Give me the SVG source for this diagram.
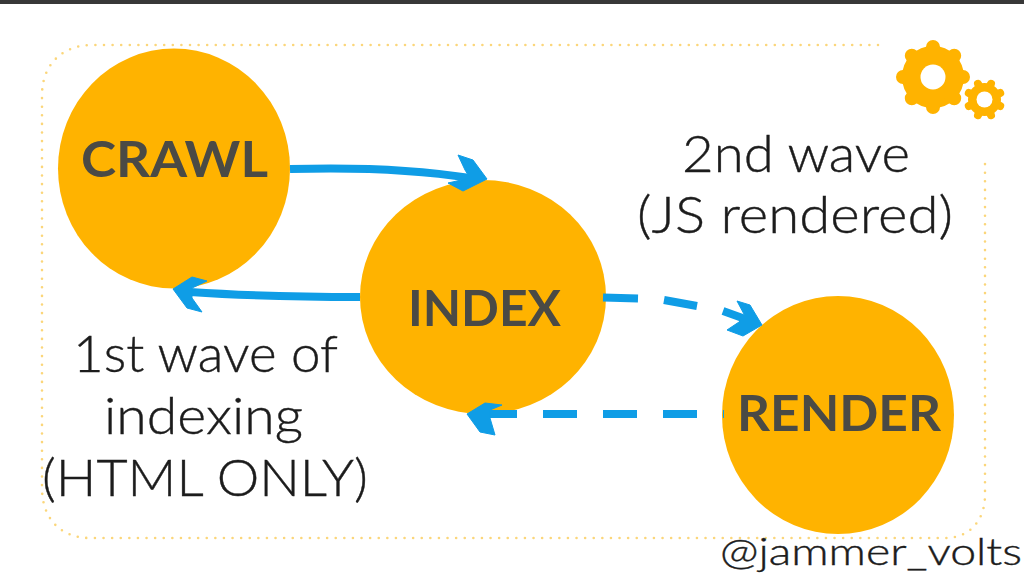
<svg xmlns="http://www.w3.org/2000/svg" width="1024" height="575" viewBox="0 0 1024 575">
<style>
.node{fill:#ffb300}
.nl{font-family:"Lato","Liberation Sans",sans-serif;font-weight:700;font-size:50px;fill:#4a4a45}
.t{font-family:"Lato","Liberation Sans",sans-serif;font-weight:300;font-size:52px;fill:#1c1c1c;stroke:#1c1c1c;stroke-width:.4}
.c{fill:none;stroke:#0f9de6;stroke-width:8}
.h{fill:#0f9de6;stroke:#0f9de6;stroke-width:1;stroke-linejoin:round}
.tooth{stroke:#ffb300;stroke-linecap:round;fill:none}
</style>
<rect width="1024" height="575" fill="#fff"/>
<rect id="topbar" width="1024" height="4" fill="#383838"/>
<path id="border" d="M878 45H92C62 45 42 65 42 95V488C42 518 60 538 90 538H945C970 538 985 520 985 495V158" fill="none" stroke="#fbd67a" stroke-width="2.6" stroke-linecap="round" stroke-dasharray="0 8.6"/>
<g id="crawl"><ellipse class="node" cx="174" cy="168.500" rx="116" ry="120"/><text class="nl" x="81" y="177" textLength="187" lengthAdjust="spacingAndGlyphs">CRAWL</text></g>
<g id="index"><ellipse class="node" cx="483" cy="297" rx="123" ry="117"/><text class="nl" x="408" y="326" textLength="153" lengthAdjust="spacingAndGlyphs">INDEX</text></g>
<g id="render"><ellipse class="node" cx="838" cy="415" rx="116" ry="119"/><text class="nl" x="737" y="431" textLength="204" lengthAdjust="spacingAndGlyphs">RENDER</text></g>
<g id="connectors">
<path class="c" d="M290 169C360 167 420 170 470 178"/>
<path class="h" d="M458 155L473 160L487 179L463 191L448 183L470 178L465 170Z"/>
<path class="c" d="M360 297C300 297 250 296 190 292"/>
<path class="h" d="M173 289L192 277L207 281L192 288V298L202 312L187 308Z"/>
<path class="c" d="M603 297.500L638 298.500M664 300L697 306M723 311L748 320"/>
<path class="h" d="M737 301L750 305L762 325L743 336L727 330L739 322L745 316Z"/>
<path class="c" d="M724 414H723M697 414H663M637 414H603M577 414H543M517 414H485"/>
<path class="h" d="M467 414L485 403L502 405L490 410V418L495 435L480 432Z"/>
</g>
<g id="gear-large">
<circle cx="933" cy="77" r="22" fill="none" stroke="#ffb300" stroke-width="18"/>
<path class="tooth" stroke-width="14" d="M933 47V107M903 77H963M911.800 55.800L954.200 98.200M954.200 55.800L911.800 98.200"/>
<circle cx="933" cy="77" r="12.500" fill="#fff"/>
</g>
<g id="gear-small">
<circle cx="984.500" cy="99.500" r="12" fill="none" stroke="#ffb300" stroke-width="9"/>
<path class="tooth" stroke-width="8" d="M991 83.800L978 115.200M978 83.800L991 115.200M968.800 93L1000.200 106M968.800 106L1000.200 93"/>
<circle cx="984.500" cy="99.500" r="8" fill="#fff"/>
</g>
<g id="labels">
<text class="t" x="682" y="172" textLength="228" lengthAdjust="spacingAndGlyphs">2nd wave</text>
<text class="t" x="637" y="233" textLength="316" lengthAdjust="spacingAndGlyphs">(JS rendered)</text>
<text class="t" x="73" y="372" textLength="265" lengthAdjust="spacingAndGlyphs">1st wave of</text>
<text class="t" x="104" y="434" textLength="199" lengthAdjust="spacingAndGlyphs">indexing</text>
<text class="t" x="42" y="496" textLength="326" lengthAdjust="spacingAndGlyphs">(HTML ONLY)</text>
<text class="t" x="720" y="565" textLength="302" lengthAdjust="spacingAndGlyphs" style="font-size:38px">@jammer_volts</text>
</g>
</svg>
